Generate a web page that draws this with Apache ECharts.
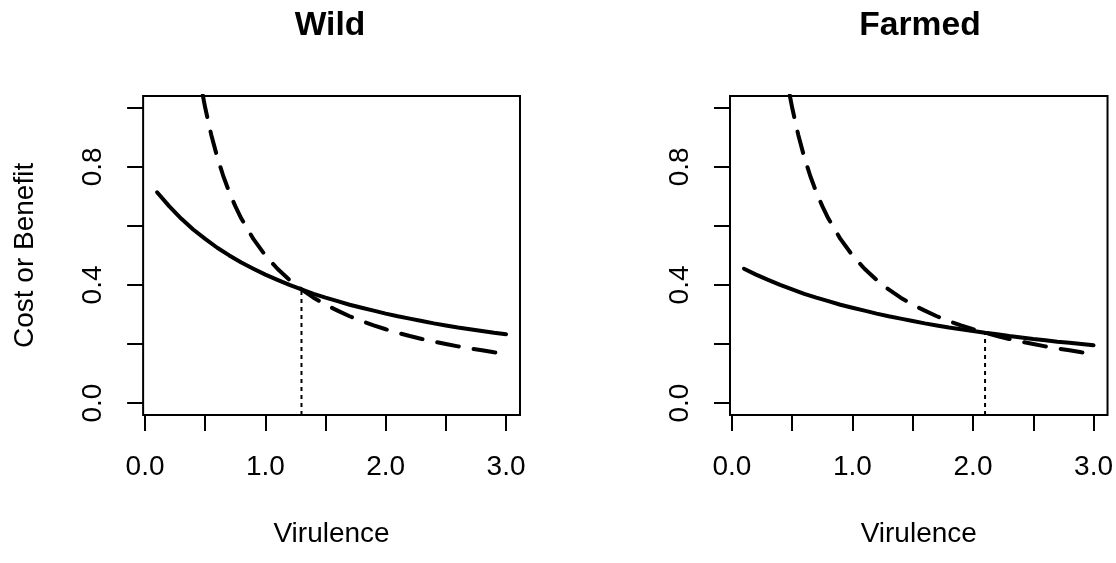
<html>

<head>
    <script src="https://cdn.jsdelivr.net/npm/echarts@6/dist/echarts.min.js"></script>
</head>
<style>
    body {
        margin: 0;
        background: #fff;
    }

    #chart {
        width: 1116px;
        height: 563px;
    }
</style>

<body>
    <div id="chart"></div>
    <script>
        // virulence values where the curves were read
        const virulence = [0.1, 0.2, 0.3, 0.4, 0.5, 0.6, 0.7, 0.8, 0.9, 1.0,
            1.1, 1.2, 1.3, 1.4, 1.5, 1.6, 1.7, 1.8, 1.9, 2.0,
            2.1, 2.2, 2.3, 2.4, 2.5, 2.6, 2.7, 2.8, 2.9, 3.0]
        // solid curve, wild panel
        const wildSolid = [0.714, 0.667, 0.625, 0.588, 0.556, 0.526, 0.500, 0.476, 0.455, 0.435,
            0.417, 0.400, 0.385, 0.370, 0.357, 0.345, 0.333, 0.323, 0.313, 0.303,
            0.294, 0.286, 0.278, 0.270, 0.263, 0.256, 0.250, 0.244, 0.238, 0.233]
        // solid curve, farmed panel
        const farmedSolid = [0.455, 0.435, 0.417, 0.400, 0.385, 0.370, 0.357, 0.345, 0.333, 0.323,
            0.313, 0.303, 0.294, 0.286, 0.278, 0.270, 0.263, 0.256, 0.250, 0.244,
            0.238, 0.233, 0.227, 0.222, 0.217, 0.213, 0.208, 0.204, 0.200, 0.196]
        // dashed curve (same in both panels), read more densely where it is steep
        const dashedX = [0.48, 0.5, 0.55, 0.6, 0.65, 0.7, 0.75, 0.8, 0.9, 1.0,
            1.1, 1.2, 1.3, 1.4, 1.5, 1.6, 1.7, 1.8, 1.9, 2.0,
            2.1, 2.2, 2.3, 2.4, 2.5, 2.6, 2.7, 2.8, 2.9, 3.0]
        const dashedY = [1.042, 1.000, 0.909, 0.833, 0.769, 0.714, 0.667, 0.625, 0.556, 0.500,
            0.455, 0.417, 0.385, 0.357, 0.333, 0.313, 0.294, 0.278, 0.263, 0.250,
            0.238, 0.227, 0.217, 0.208, 0.200, 0.192, 0.185, 0.179, 0.172, 0.167]
        // where the curves cross: [x, y]
        const wildCross = [1.3, 0.385]
        const farmedCross = [2.1, 0.238]

        const panelTitles = ['Wild', 'Farmed']
        const xTicks = [0, 0.5, 1.0, 1.5, 2.0, 2.5, 3.0]
        const xLabels = [0, 1.0, 2.0, 3.0]
        const yTicks = [0, 0.2, 0.4, 0.6, 0.8, 1.0]
        const yLabels = [0, 0.4, 0.8]

        const font = 'Liberation Sans'

        function pairs(xs, ys) {
            return xs.map(function (x, i) {
                return [x, ys[i]]
            })
        }

        function xAxisFor(idx) {
            return {
                gridIndex: idx,
                type: 'value',
                min: -0.016,
                max: 3.116,
                name: 'Virulence',
                nameLocation: 'middle',
                nameGap: 105,
                nameTextStyle: { fontFamily: font, fontSize: 28, color: '#000', lineHeight: 28 },
                axisLine: { show: false, onZero: false },
                splitLine: { show: false },
                axisTick: {
                    show: true, inside: false, length: 16, customValues: xTicks,
                    lineStyle: { color: '#000', width: 2 }
                },
                axisLabel: {
                    customValues: xLabels, margin: 38,
                    fontFamily: font, fontSize: 28, color: '#000', lineHeight: 28,
                    formatter: function (v) { return v.toFixed(1) }
                }
            }
        }

        function yAxisFor(idx, name) {
            return {
                gridIndex: idx,
                type: 'value',
                min: -0.04,
                max: 1.04,
                name: name,
                nameLocation: 'middle',
                nameGap: 104,
                nameTextStyle: { fontFamily: font, fontSize: 28, color: '#000', lineHeight: 28 },
                axisLine: { show: false, onZero: false },
                splitLine: { show: false },
                axisTick: {
                    show: true, inside: false, length: 16, customValues: yTicks,
                    lineStyle: { color: '#000', width: 2 }
                },
                axisLabel: {
                    customValues: yLabels, margin: 36, rotate: 90,
                    fontFamily: font, fontSize: 28, color: '#000', lineHeight: 28,
                    formatter: function (v) { return v.toFixed(1) }
                }
            }
        }

        function curves(idx, solid, cross) {
            return [{
                type: 'line', xAxisIndex: idx, yAxisIndex: idx,
                data: pairs(virulence, solid),
                symbol: 'none', clip: true,
                lineStyle: { color: '#000', width: 4, cap: 'round', join: 'round' }
            }, {
                type: 'line', xAxisIndex: idx, yAxisIndex: idx,
                data: pairs(dashedX, dashedY),
                symbol: 'none', clip: true,
                lineStyle: { color: '#000', width: 4, type: [22, 15], cap: 'round', join: 'round' }
            }, {
                // dotted drop line from the crossing point
                type: 'line', xAxisIndex: idx, yAxisIndex: idx,
                data: [[cross[0], -0.04], cross],
                symbol: 'none', clip: true,
                lineStyle: { color: '#000', width: 2, type: [4, 4] }
            }]
        }

        const titleCenters = [330, 920]

        const option = {
            animation: false,
            backgroundColor: '#fff',
            grid: [
                { left: 140, top: 96, width: 380, height: 335, show: true, borderColor: '#000', borderWidth: 2 },
                { left: 730, top: 96, width: 380, height: 335, show: true, borderColor: '#000', borderWidth: 2 }
            ],
            xAxis: [xAxisFor(0), xAxisFor(1)],
            yAxis: [yAxisFor(0, 'Cost or Benefit'), yAxisFor(1, '')],
            graphic: panelTitles.map(function (t, i) {
                return {
                    type: 'text',
                    x: titleCenters[i],
                    y: 26,
                    style: {
                        text: t, fontFamily: font, fontSize: 33.6, fontWeight: 'bold',
                        fill: '#000', align: 'center', verticalAlign: 'middle'
                    }
                }
            }),
            series: curves(0, wildSolid, wildCross).concat(curves(1, farmedSolid, farmedCross))
        }

        const myChart = echarts.init(document.getElementById('chart'))
        myChart.setOption(option)
    </script>
</body>

</html>
